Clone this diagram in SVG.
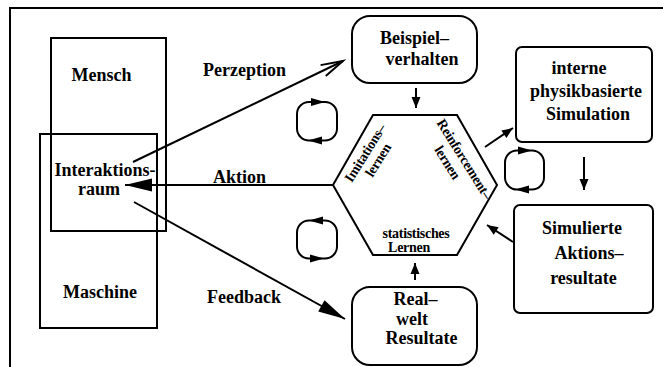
<svg xmlns="http://www.w3.org/2000/svg" width="663" height="367" viewBox="0 0 663 367">
<style>
.box{fill:none;stroke:#000;stroke-width:2}
.ln{fill:none;stroke:#000;stroke-width:2}
.t{font-family:"Liberation Serif","Times New Roman",serif;font-weight:bold;font-size:18px;fill:#000}
.s{font-family:"Liberation Serif","Times New Roman",serif;font-weight:bold;font-size:14px;fill:#000;letter-spacing:-0.3px}
.m{text-anchor:middle}
.cyc{fill:none;stroke:#000;stroke-width:2}
</style>
<defs>
<marker id="big" markerUnits="userSpaceOnUse" markerWidth="28" markerHeight="14" refX="27" refY="6.5" orient="auto" overflow="visible">
<path d="M0,0 L27,6.5 L0,13 z" fill="#000"/>
</marker>
<marker id="small" markerUnits="userSpaceOnUse" markerWidth="12" markerHeight="10" refX="11" refY="4.5" orient="auto" overflow="visible">
<path d="M0,0 L11,4.5 L0,9 z" fill="#000"/>
</marker>
<marker id="open" markerUnits="userSpaceOnUse" markerWidth="24" markerHeight="14" refX="22" refY="6" orient="auto" overflow="visible">
<path d="M0,0 L22,6 L0,12" fill="none" stroke="#000" stroke-width="2"/>
</marker>
</defs>
<rect x="10" y="8" width="700" height="420" class="box"/>

<g id="mensch">
<rect x="51" y="38" width="115" height="193" class="box"/>
<text x="101.5" y="81" class="t m">Mensch</text>
</g>
<g id="maschine">
<rect x="40" y="134" width="117" height="194" class="box"/>
<text x="100" y="298" class="t m">Maschine</text>
</g>
<g id="interaktionsraum">
<text x="54.5" y="176" class="t">Interaktions-</text>
<text x="99" y="194.5" class="t m">raum</text>
</g>

<g id="beispielverhalten">
<rect x="352" y="16" width="125" height="67" rx="18" class="box"/>
<text x="414.5" y="44" class="t m">Beispiel–</text>
<text x="422" y="65" class="t m">verhalten</text>
</g>

<g id="realwelt">
<rect x="352" y="287" width="125" height="78" rx="18" class="box"/>
<text x="415.5" y="305" class="t m">Real–</text>
<text x="412" y="325" class="t m">welt</text>
<text x="421.5" y="343.5" class="t m">Resultate</text>
</g>

<g id="simulation">
<rect x="516" y="47" width="136" height="95" rx="6" class="box"/>
<text x="579" y="73.5" class="t m">interne</text>
<text x="586" y="96.5" class="t m">physikbasierte</text>
<text x="588" y="120" class="t m">Simulation</text>
</g>

<g id="aktionsresultate">
<rect x="514" y="205" width="139" height="108" rx="6" class="box"/>
<text x="582" y="233.5" class="t m">Simulierte</text>
<text x="589" y="258.5" class="t m">Aktions–</text>
<text x="583.5" y="283.5" class="t m">resultate</text>
</g>

<g id="lernen">
<polygon points="373,115 457,115 497,185 457,255 373,255 333,185" class="box" stroke-width="1.8"/>
<text class="s m" transform="translate(369,155.5) rotate(-58)">Imitations–</text>
<text class="s m" transform="translate(382,162.5) rotate(-58)">lernen</text>
<text class="s m" transform="translate(460.5,161.5) rotate(58)">Reinforcement–</text>
<text class="s m" transform="translate(443.5,165) rotate(58)">lernen</text>
<text x="416" y="238" class="s m">statistisches</text>
<text x="409" y="252" class="s m">Lernen</text>
</g>

<g id="connectors">
<line x1="133" y1="162" x2="343" y2="61" class="ln" marker-end="url(#open)"/>
<line x1="333" y1="185" x2="125" y2="185" class="ln" marker-end="url(#big)"/>
<line x1="134" y1="202" x2="345" y2="319" class="ln" marker-end="url(#big)"/>
<line x1="416" y1="88" x2="416" y2="108" class="ln" marker-end="url(#small)"/>
<line x1="415" y1="280" x2="415" y2="263" class="ln" marker-end="url(#small)"/>
<line x1="485" y1="147" x2="513" y2="128" class="ln" marker-end="url(#small)"/>
<line x1="584" y1="157" x2="584" y2="190" class="ln" marker-end="url(#small)"/>
<line x1="513" y1="242" x2="487" y2="225" class="ln" marker-end="url(#small)"/>
<text x="203" y="76" class="t">Perzeption</text>
<text x="213" y="183" class="t">Aktion</text>
<text x="207" y="303" class="t">Feedback</text>
</g>

<g id="cycle1">
<rect x="297" y="102" width="40" height="38.5" rx="12" class="cyc"/>
<path d="M311,98 L325,102 L311,106 z"/>
<path d="M322,136.5 L308,140.5 L322,144.5 z"/>
</g>
<g id="cycle2">
<rect x="297" y="220.5" width="40" height="38" rx="12" class="cyc"/>
<path d="M323,216.5 L309,220.5 L323,224.5 z"/>
<path d="M310,254.5 L324,258.5 L310,262.5 z"/>
</g>
<g id="cycle3">
<rect x="505" y="150.5" width="39" height="39" rx="12" class="cyc"/>
<path d="M518,146.5 L532,150.5 L518,154.5 z"/>
<path d="M529,185.5 L515,189.5 L529,193.5 z"/>
</g>
</svg>
